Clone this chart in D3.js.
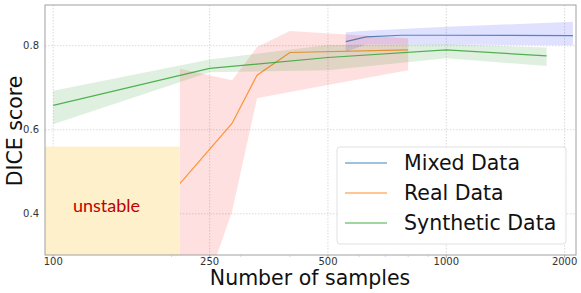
<!DOCTYPE html>
<html>
<head>
<meta charset="utf-8">
<script src="https://cdn.jsdelivr.net/npm/d3@7"></script>
<style>
  body { margin: 0; background: #fff; }
  text { font-family: "DejaVu Sans", sans-serif; }
</style>
</head>
<body>
<div id="chart"></div>
<script>
// Data
var mixedN = [555, 625, 770, 1000, 2100];
var mixedMean = [0.810, 0.821, 0.825, 0.825, 0.824];
var mixedHi = [0.832, 0.836, 0.840, 0.845, 0.857];
var mixedLo = [0.786, 0.803, 0.803, 0.803, 0.801];

var realN = [210, 285, 330, 400, 800];
var realMean = [0.472, 0.615, 0.730, 0.784, 0.790];
var realHi = [0.745, 0.718, 0.797, 0.835, 0.818];
var realLo = [0.05, 0.405, 0.675, 0.690, 0.742];

var synN = [100, 250, 500, 1000, 1800];
var synMean = [0.658, 0.746, 0.772, 0.790, 0.776];
var synHi = [0.693, 0.767, 0.802, 0.804, 0.796];
var synLo = [0.613, 0.737, 0.742, 0.770, 0.752];

var xTicks = [100, 250, 500, 1000, 2000];
var xMinor = [200, 300, 400, 600, 700, 800, 900];
var yTicks = [0.4, 0.6, 0.8];
var unstableTop = 0.56;

var seriesNames = ["Mixed Data", "Real Data", "Synthetic Data"];

var W = 581, H = 293;
var margin = { top: 5, right: 5, bottom: 38, left: 45 },
    width = W - margin.left - margin.right,
    height = H - margin.top - margin.bottom;

var svg = d3.select("#chart")
  .append("svg")
    .attr("width", W)
    .attr("height", H);

var x = d3.scaleLog().domain([95.3, 2138]).range([0, width]);
var y = d3.scaleLinear().domain([0.302, 0.897]).range([height, 0]);

var g = svg.append("g")
    .attr("transform", `translate(${margin.left},${margin.top})`);

g.append("clipPath").attr("id", "clip")
  .append("rect").attr("width", width).attr("height", height);

// grid
g.selectAll(".vgrid").data(xTicks).enter().append("line")
  .attr("x1", d => x(d)).attr("x2", d => x(d))
  .attr("y1", 0).attr("y2", height)
  .attr("stroke", "#cfcfcf").attr("stroke-width", 0.8).attr("stroke-dasharray", "1.5,1.5");
g.selectAll(".hgrid").data(yTicks).enter().append("line")
  .attr("x1", 0).attr("x2", width)
  .attr("y1", d => y(d)).attr("y2", d => y(d))
  .attr("stroke", "#cfcfcf").attr("stroke-width", 0.8).attr("stroke-dasharray", "1.5,1.5");

var plot = g.append("g").attr("clip-path", "url(#clip)");

var series = [
  { n: mixedN, m: mixedMean, hi: mixedHi, lo: mixedLo, fill: "#0000ff", line: "#1f77b4" },
  { n: realN, m: realMean, hi: realHi, lo: realLo, fill: "#ff0000", line: "#ff7f0e" },
  { n: synN, m: synMean, hi: synHi, lo: synLo, fill: "#008000", line: "#2ca02c" }
];

var area = d3.area()
  .x(d => x(d.n)).y0(d => y(d.lo)).y1(d => y(d.hi));
var line = d3.line()
  .x(d => x(d.n)).y(d => y(d.m));

series.forEach(function(s) {
  var pts = s.n.map((n, i) => ({ n: n, m: s.m[i], hi: s.hi[i], lo: s.lo[i] }));
  plot.append("path").datum(pts)
    .attr("d", area)
    .attr("fill", s.fill).attr("fill-opacity", 0.12);
  plot.append("path").datum(pts)
    .attr("d", line)
    .attr("fill", "none")
    .attr("stroke", s.line).attr("stroke-opacity", 0.8).attr("stroke-width", 1.2);
});

// unstable region
plot.append("rect")
  .attr("x", 0)
  .attr("y", y(unstableTop))
  .attr("width", x(realN[0]))
  .attr("height", height - y(unstableTop))
  .attr("fill", "#fff0cc");
plot.append("text")
  .attr("x", x(realN[0]) / 2 - 6)
  .attr("y", (y(unstableTop) + height) / 2 + 5)
  .attr("dy", "0.35em")
  .attr("text-anchor", "middle")
  .style("font-family", "Lato, 'Open Sans', sans-serif")
  .style("font-size", "18px")
  .attr("fill", "#c00000")
  .text("unstable");

// frame
g.append("rect")
  .attr("width", width).attr("height", height)
  .attr("fill", "none").attr("stroke", "#a0a0a0").attr("stroke-width", 1);

// x ticks
g.selectAll(".xminor").data(xMinor).enter().append("line")
  .attr("x1", d => x(d)).attr("x2", d => x(d))
  .attr("y1", height).attr("y2", height + 2)
  .attr("stroke", "#c0c0c0").attr("stroke-width", 0.6);
g.selectAll(".xmajor").data(xTicks).enter().append("line")
  .attr("x1", d => x(d)).attr("x2", d => x(d))
  .attr("y1", height).attr("y2", height + 3)
  .attr("stroke", "#a0a0a0").attr("stroke-width", 0.8);
g.selectAll(".xlab").data(xTicks).enter().append("text")
  .attr("x", d => x(d)).attr("y", height + 10)
  .attr("text-anchor", "middle")
  .style("font-size", "10px").attr("fill", "#333")
  .text(d => d);

// y ticks
g.selectAll(".ylab").data(yTicks).enter().append("text")
  .attr("x", -6).attr("y", d => y(d)).attr("dy", "0.35em")
  .attr("text-anchor", "end")
  .style("font-size", "10px").attr("fill", "#333")
  .text(d => d.toFixed(1));

// axis labels
svg.append("text")
  .attr("x", 310).attr("y", 285)
  .attr("text-anchor", "middle")
  .style("font-size", "20.5px").attr("fill", "#111")
  .text("Number of samples");
svg.append("text")
  .attr("transform", "translate(22,131) rotate(-90)")
  .attr("text-anchor", "middle")
  .style("font-size", "20.5px").attr("fill", "#111")
  .text("DICE score");

// legend
var leg = svg.append("g").attr("transform", "translate(337,147)");
leg.append("rect")
  .attr("width", 229).attr("height", 97).attr("rx", 3)
  .attr("fill", "#fff").attr("fill-opacity", 0.85)
  .attr("stroke", "#e0e0e0").attr("stroke-width", 1);
seriesNames.forEach(function(name, i) {
  var ly = 16 + i * 30;
  leg.append("line")
    .attr("x1", 8).attr("x2", 50).attr("y1", ly).attr("y2", ly)
    .attr("stroke", series[i].line).attr("stroke-opacity", 0.6).attr("stroke-width", 1.5);
  leg.append("text")
    .attr("x", 67).attr("y", ly).attr("dy", "0.36em")
    .style("font-size", "20.5px").attr("fill", "#111")
    .text(name);
});
</script>
</body>
</html>
